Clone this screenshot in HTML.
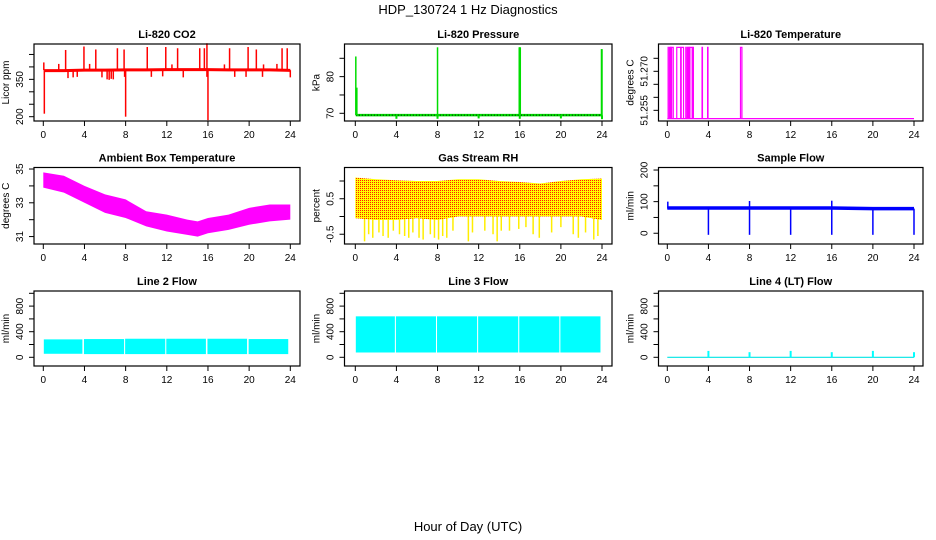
<!DOCTYPE html>
<html><head><meta charset="utf-8"><style>
html,body{margin:0;padding:0;background:#fff;}
svg{display:block;font-family:"Liberation Sans",Arial,sans-serif;}
</style></head><body>
<svg id="chart" width="936" height="540" viewBox="0 0 936 540" xmlns="http://www.w3.org/2000/svg">
<defs>
<pattern id="rhpat" width="2" height="2" patternUnits="userSpaceOnUse">
<rect width="2" height="2" fill="#ffff00"/><rect x="0" y="0" width="1" height="1" fill="#ff2000"/>
</pattern>
</defs>
<text x="468" y="14" text-anchor="middle" font-size="13">HDP_130724  1 Hz Diagnostics</text>
<text x="468" y="531" text-anchor="middle" font-size="13">Hour of Day (UTC)</text>
</svg>
<script>
// ---- data ----
const xTicks = [0,4,8,12,16,20,24];
// CO2
const co2BaseHours = [0.1,2,4,6,8,10,12,14,16,18,20,22,24];
const co2BaseVals = [385,385,387,387,388,388,389,389,389,388,388,388,386];
const co2SpikeHours = [2.17,3.95,5.1,7.2,7.85,10.1,11.9,13.05,15.2,15.65,15.9,18.1,19.9,20.7,23.2,23.7,1.5,4.5,12.5,17.6,21.4,22.7,0.05];
const co2SpikeVals = [468,482,470,475,470,480,480,475,475,475,495,475,480,470,475,475,412,412,410,410,410,412,418];
const co2DipHours = [0.1,2.4,2.9,3.3,5.7,6.2,6.4,6.6,6.8,7.9,8.0,10.5,11.6,13.6,15.9,16.0,18.6,19.7,21.3,24];
const co2DipVals = [212,355,358,360,358,350,348,352,350,360,200,360,362,358,360,186,360,360,360,358];
// Pressure
const presBase = 69.5;
const presSpikeHours = [0.05,0.15,8.0,15.95,16.0,16.05,23.95,24.0];
const presSpikeVals = [85.5,77,88,88,88,88,87.5,87.5];
const presDipHours = [4,8,12,16,20,24];
const presDipVals = [68.5,68.5,68.6,68.5,68.6,68.4];
// Li-820 temperature: intervals of the high state
const tempLow = 51.2518, tempHigh = 51.2792;
const tempHighStart = [0.08,0.22,0.32,0.42,0.92,1.35,1.8,1.95,2.05,2.2,2.5,3.38,3.92,7.12];
const tempHighEnd =   [0.1,0.28,0.36,0.58,1.3,1.58,1.84,2.0,2.15,2.42,2.54,3.42,3.96,7.26];
// Ambient box temperature band
const ambHours = [0,2,4,6,8,10,12,14,15,16,18,20,22,24];
const ambTop = [34.8,34.6,34.0,33.5,33.2,32.5,32.3,32.0,31.9,32.1,32.3,32.7,32.9,32.9];
const ambBot = [33.9,33.6,33.0,32.4,32.1,31.6,31.3,31.1,31.0,31.2,31.4,31.7,31.9,32.0];
// Gas stream RH band
const rhHours = [0,2,4,6,8,10,12,14,16,18,20,22,24];
const rhTop = [1.1,1.05,1.02,1.0,1.0,1.05,1.05,1.0,0.97,0.93,1.0,1.05,1.07];
const rhBot = [-0.05,-0.1,-0.1,-0.05,-0.1,0,0,0,0,0,0,0,-0.1];
const rhDipHours = [0.9,1.3,1.7,2.3,2.7,3.2,3.7,4.3,4.8,5.2,5.6,6.2,6.6,7.3,7.7,8.1,8.5,8.9,9.5,11,11.4,12.6,13.4,13.8,14.2,15,15.9,16.6,17.3,17.9,19.1,20,21.2,21.7,22.4,23.2,23.6];
const rhDipVals = [-0.7,-0.5,-0.6,-0.45,-0.55,-0.6,-0.4,-0.5,-0.55,-0.6,-0.45,-0.6,-0.65,-0.5,-0.6,-0.65,-0.55,-0.6,-0.4,-0.7,-0.45,-0.4,-0.5,-0.7,-0.4,-0.4,-0.35,-0.3,-0.5,-0.6,-0.45,-0.3,-0.5,-0.6,-0.45,-0.65,-0.55];
// Sample flow
const sfHours = [0,4,8,12,16,20,24];
const sfBase = [80,80,80,80,80,78,78];
const sfDropHours = [4,8,12,16,20,24];
const sfDropVals = [-5,-5,-5,-5,-5,-5];
const sfUpHours = [0.05,8.0,16.0];
const sfUpVals = [100,102,103];
// Line 2 flow band blocks
const l2Start = [0.05,3.95,7.95,11.95,15.95,19.95];
const l2End = [3.8,7.85,11.85,15.8,19.8,23.8];
const l2Top = [280,285,290,290,290,285];
const l2Bot = [55,50,50,50,50,50];
// Line 3 flow band blocks
const l3Start = [0.05,3.95,7.95,11.95,15.95,19.95];
const l3End = [3.85,7.85,11.85,15.85,19.85,23.85];
const l3Top = [640,640,640,640,640,640];
const l3Bot = [75,75,75,75,75,75];
// Line 4 flow spikes
const l4Hours = [4,8,12,16,20,24];
const l4Vals = [100,80,100,80,100,80];

// ---- layout ----
const svg = document.getElementById('chart');
const NS = 'http://www.w3.org/2000/svg';
const cols = [{L:34,R:300,x0:43.3,x24:290.3},{L:344.5,R:612,x0:355.3,x24:602},{L:658.5,R:923,x0:667.3,x24:914}];
const rows = [{T:44,B:121},{T:167.5,B:244},{T:291,B:366}];
function el(tag, attrs, parent){const e=document.createElementNS(NS,tag);for(const k in attrs)e.setAttribute(k,attrs[k]);(parent||svg).appendChild(e);return e;}

function panel(name,c,r,title,ylab,ymin,ymax,yticks,ylabels){
  const C=cols[c],R=rows[r];
  const g=el('g',{});
  
  
  const sx=h=>C.x0+(C.x24-C.x0)*h/24;
  const sy=v=>R.B-(v-ymin)/(ymax-ymin)*(R.B-R.T);
  const t=el('text',{x:(C.L+C.R)/2,y:R.T-6,'text-anchor':'middle','font-size':'11','font-weight':'bold'},g);
  t.textContent=title;
  
  
  const yl=el('text',{x:0,y:0,'text-anchor':'middle','font-size':'10',transform:`translate(${C.L-25},${(R.T+R.B)/2}) rotate(-90)`},g);
  yl.textContent=ylab;
  
  
  const plot=el('g',{},g);
  
  
  const box=el('rect',{x:C.L,y:R.T,width:C.R-C.L,height:R.B-R.T,fill:'none',stroke:'#000','stroke-width':1.2},g);
  
  
  const xa=el('g',{},g);
  
  
  xTicks.forEach(h=>{
    el('line',{x1:sx(h),x2:sx(h),y1:R.B,y2:R.B+5,stroke:'#000'},xa);
    const tl=el('text',{x:sx(h),y:R.B+17,'text-anchor':'middle','font-size':'10'},xa);
    tl.textContent=h;
  });
  const ya=el('g',{},g);
  
  
  yticks.forEach(v=>{el('line',{x1:C.L-5,x2:C.L,y1:sy(v),y2:sy(v),stroke:'#000'},ya);});
  ylabels.forEach(v=>{
    const tl=el('text',{x:0,y:0,'text-anchor':'middle','font-size':'10',transform:`translate(${C.L-11},${sy(v)}) rotate(-90)`},ya);
    tl.textContent=v;
  });
  return {plot,sx,sy};
}
function vline(p,h,v1,v2,color,w){el('line',{x1:p.sx(h),x2:p.sx(h),y1:p.sy(v1),y2:p.sy(v2),stroke:color,'stroke-width':w||1},p.plot);}

// CO2
let p=panel('co2',0,0,'Li-820 CO2','Licor ppm',182.7,492,[200,250,300,350,400,450],[200,350]);
el('polyline',{points:co2BaseHours.map((h,i)=>p.sx(h)+','+p.sy(co2BaseVals[i])).join(' '),fill:'none',stroke:'#ff0000','stroke-width':3},p.plot);
co2SpikeHours.forEach((h,i)=>vline(p,h,387,co2SpikeVals[i],'#ff0000',1.5));
co2DipHours.forEach((h,i)=>vline(p,h,387,co2DipVals[i],'#ff0000',1.5));

// Pressure
p=panel('pressure',1,0,'Li-820 Pressure','kPa',67.9,88.9,[70,75,80,85],[70,80]);
el('line',{x1:p.sx(0.05),x2:p.sx(24),y1:p.sy(presBase),y2:p.sy(presBase),stroke:'#00dd00','stroke-width':2.5},p.plot);
el('line',{x1:p.sx(0.05),x2:p.sx(24),y1:p.sy(presBase),y2:p.sy(presBase),stroke:'#000','stroke-width':1,'stroke-dasharray':'1 2'},p.plot);
presSpikeHours.forEach((h,i)=>vline(p,h,presBase,presSpikeVals[i],'#00dd00',1.5));
presDipHours.forEach((h,i)=>vline(p,h,presBase,presDipVals[i],'#00dd00',2));

// Temperature
p=panel('li820-temperature',2,0,'Li-820 Temperature','degrees C',51.2509,51.2805,[51.255,51.26,51.265,51.27,51.275],['51.255','51.270']);
el('line',{x1:p.sx(0),x2:p.sx(24),y1:p.sy(tempLow),y2:p.sy(tempLow),stroke:'#ff00ff','stroke-width':1.2},p.plot);
tempHighStart.forEach((s,i)=>{
  const e=tempHighEnd[i];
  el('path',{d:`M${p.sx(s)},${p.sy(tempLow)}V${p.sy(tempHigh)}H${p.sx(e)}V${p.sy(tempLow)}`,fill:'none',stroke:'#ff00ff','stroke-width':1.2},p.plot);
});

// Ambient
p=panel('ambient-box-temperature',0,1,'Ambient Box Temperature','degrees C',30.56,35.09,[31,32,33,34,35],[31,33,35]);
el('polygon',{points:ambHours.map((h,i)=>p.sx(h)+','+p.sy(ambTop[i])).concat(ambHours.map((h,i)=>p.sx(h)+','+p.sy(ambBot[i])).reverse()).join(' '),fill:'#ff00ff'},p.plot);

// RH
p=panel('gas-stream-rh',1,1,'Gas Stream RH','percent',-0.775,1.38,[-0.5,0,0.5,1],['-0.5','0.5']);
rhDipHours.forEach((h,i)=>vline(p,h,0.2,rhDipVals[i],'#ffee00',1.5));
el('polygon',{points:rhHours.map((h,i)=>p.sx(h)+','+p.sy(rhTop[i])).concat(rhHours.map((h,i)=>p.sx(h)+','+p.sy(rhBot[i])).reverse()).join(' '),fill:'url(#rhpat)'},p.plot);

// Sample flow
p=panel('sample-flow',2,1,'Sample Flow','ml/min',-34,208,[0,50,100,150,200],[0,100,200]);
el('polyline',{points:sfHours.map((h,i)=>p.sx(h)+','+p.sy(sfBase[i])).join(' '),fill:'none',stroke:'#0000ff','stroke-width':3.5},p.plot);
sfDropHours.forEach((h,i)=>vline(p,h,78,sfDropVals[i],'#0000ff',1.5));
sfUpHours.forEach((h,i)=>vline(p,h,78,sfUpVals[i],'#0000ff',1.5));

// Line 2
p=panel('line-2-flow',0,2,'Line 2 Flow','ml/min',-136,1036,[0,200,400,600,800,1000],[0,400,800]);
l2Start.forEach((s,i)=>el('rect',{x:p.sx(s),y:p.sy(l2Top[i]),width:p.sx(l2End[i])-p.sx(s),height:p.sy(l2Bot[i])-p.sy(l2Top[i]),fill:'#00ffff'},p.plot));

// Line 3
p=panel('line-3-flow',1,2,'Line 3 Flow','ml/min',-136,1036,[0,200,400,600,800,1000],[0,400,800]);
l3Start.forEach((s,i)=>el('rect',{x:p.sx(s),y:p.sy(l3Top[i]),width:p.sx(l3End[i])-p.sx(s),height:p.sy(l3Bot[i])-p.sy(l3Top[i]),fill:'#00ffff'},p.plot));

// Line 4
p=panel('line-4-lt-flow',2,2,'Line 4 (LT) Flow','ml/min',-136,1036,[0,200,400,600,800,1000],[0,400,800]);
el('line',{x1:p.sx(0),x2:p.sx(24),y1:p.sy(0),y2:p.sy(0),stroke:'#00e5e5','stroke-width':1.2},p.plot);
l4Hours.forEach((h,i)=>vline(p,h,0,l4Vals[i],'#00ffff',2));
</script>
</body></html>
